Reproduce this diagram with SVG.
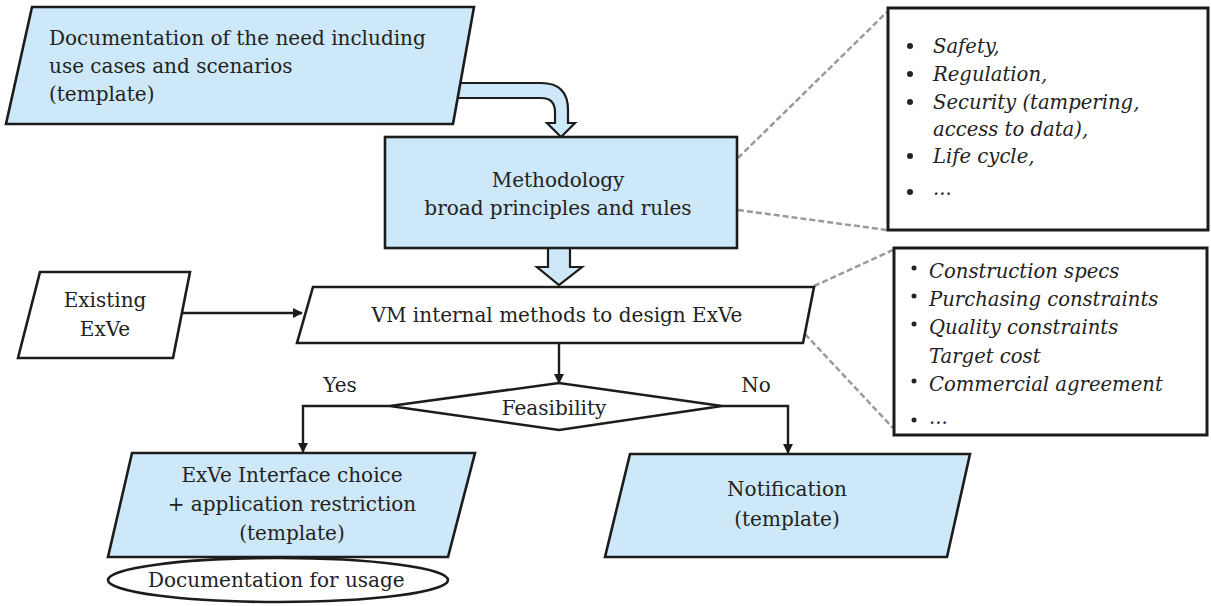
<svg xmlns="http://www.w3.org/2000/svg" width="1211" height="606" viewBox="0 0 1211 606">
<style>
.t{font-family:"DejaVu Serif","Liberation Serif",serif;font-size:20px;fill:#222}
.i{font-family:"DejaVu Serif","Liberation Serif",serif;font-size:19.6px;font-style:italic;fill:#222}
.blue{fill:#cde8f8;stroke:#1c1c1c;stroke-width:2.6}
.wh{fill:#fff;stroke:#1c1c1c;stroke-width:2.6}
.box{fill:#fff;stroke:#1c1c1c;stroke-width:3}
.ln{fill:none;stroke:#1c1c1c;stroke-width:2.4}
.dash{fill:none;stroke:#9a9a9a;stroke-width:2.5;stroke-dasharray:6 3}
.hol{fill:#cde8f8;stroke:#1c1c1c;stroke-width:2.2}
</style>
<defs>
<marker id="ah" markerWidth="10" markerHeight="10" refX="9" refY="5" orient="auto" markerUnits="userSpaceOnUse">
<path d="M0,0 L10,5 L0,10 Z" fill="#1c1c1c"/>
</marker>
</defs>
<rect width="1211" height="606" fill="#fff"/>
<g id="connectors">
<path class="hol" d="M455 83 H541 Q568 83 568 110 V123 H575 L561 137 L547 123 H555 V112 Q555 98 541 98 H455 Z"/>
<path class="hol" d="M548 240 V267 H537 L559 285 L582 267 H570 V240 Z"/>
<path class="ln" d="M183 313 H302" marker-end="url(#ah)"/>
<path class="ln" d="M559 343 V383" marker-end="url(#ah)"/>
<path class="ln" d="M390 406 H303 V452" marker-end="url(#ah)"/>
<path class="ln" d="M722 406 H788 V453" marker-end="url(#ah)"/>
<path class="dash" d="M738 158 L887 12"/>
<path class="dash" d="M738 210 L887 230"/>
<path class="dash" d="M814 286 L893 250"/>
<path class="dash" d="M805 334 L893 428"/>
</g>
<g id="need">
<polygon class="blue" points="32,7 474,7 453,124 6,124"/>
<text class="t" x="49" y="45">Documentation of the need including</text>
<text class="t" x="49" y="73">use cases and scenarios</text>
<text class="t" x="49" y="101">(template)</text>
</g>
<g id="methodology">
<rect class="blue" x="385" y="137" width="352" height="111"/>
<text class="t" x="558" y="187" text-anchor="middle">Methodology</text>
<text class="t" x="558" y="215" text-anchor="middle">broad principles and rules</text>
</g>
<g id="existing">
<polygon class="wh" points="40,272 190,272 173,358 18,358"/>
<text class="t" x="105" y="307" text-anchor="middle">Existing</text>
<text class="t" x="105" y="336" text-anchor="middle">ExVe</text>
</g>
<g id="vm">
<polygon class="wh" points="313,287 814,287 803,343 297,343"/>
<text class="t" x="557" y="322" text-anchor="middle">VM internal methods to design ExVe</text>
</g>
<g id="feasibility">
<polygon class="wh" points="390,406 559,383 722,406 559,430"/>
<text class="t" x="554" y="415" text-anchor="middle">Feasibility</text>
</g>
<text class="t" x="340" y="392" text-anchor="middle">Yes</text>
<text class="t" x="756" y="392" text-anchor="middle">No</text>
<g id="interface">
<polygon class="blue" points="132,453 475,453 448,557 108,557"/>
<text class="t" x="292" y="482" text-anchor="middle">ExVe Interface choice</text>
<text class="t" x="292" y="511" text-anchor="middle">+ application restriction</text>
<text class="t" x="292" y="540" text-anchor="middle">(template)</text>
</g>
<g id="usage">
<ellipse class="wh" cx="278" cy="580" rx="170" ry="22"/>
<text class="t" x="148" y="587">Documentation for usage</text>
</g>
<g id="notification">
<polygon class="blue" points="630,454 970,454 947,557 605,557"/>
<text class="t" x="787" y="496" text-anchor="middle">Notification</text>
<text class="t" x="787" y="526" text-anchor="middle">(template)</text>
</g>
<g id="notes1">
<rect class="box" x="888" y="8" width="320" height="222"/>
<g fill="#222">
<circle cx="910" cy="46" r="3"/><circle cx="910" cy="74" r="3"/><circle cx="910" cy="102" r="3"/><circle cx="910" cy="156" r="3"/><circle cx="910" cy="192" r="3"/>
</g>
<text class="i" x="933" y="53">Safety,</text>
<text class="i" x="933" y="81">Regulation,</text>
<text class="i" x="933" y="109">Security (tampering,</text>
<text class="i" x="933" y="136">access to data),</text>
<text class="i" x="933" y="163">Life cycle,</text>
<text class="i" x="933" y="195">...</text>
</g>
<g id="notes2">
<rect class="box" x="894" y="248" width="313" height="187"/>
<g fill="#222">
<circle cx="914" cy="268" r="2.5"/><circle cx="914" cy="296" r="2.5"/><circle cx="914" cy="324" r="2.5"/><circle cx="914" cy="381" r="2.5"/><circle cx="914" cy="420" r="2.5"/>
</g>
<text class="i" x="929" y="278">Construction specs</text>
<text class="i" x="929" y="306">Purchasing constraints</text>
<text class="i" x="929" y="334">Quality constraints</text>
<text class="i" x="929" y="363">Target cost</text>
<text class="i" x="929" y="391">Commercial agreement</text>
<text class="i" x="929" y="424">...</text>
</g>
</svg>
